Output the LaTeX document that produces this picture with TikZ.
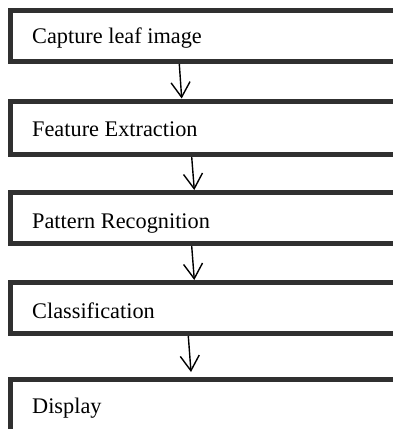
\documentclass[tikz,border=0pt]{standalone}
\usepackage{fontspec}
\setmainfont{Liberation Serif}
\usetikzlibrary{arrows.meta}

\definecolor{rimgray}{RGB}{48,48,48}

\tikzset{
  stagebox/.style={fill=white, rectangle, minimum width=382.5pt,
    inner sep=0pt, outer sep=0pt, anchor=north west},
  rim/.style={draw=rimgray, line width=5pt, line join=miter, line cap=butt},
  stagetext/.style={anchor=base west, inner sep=0pt,
    font=\fontsize{22.3pt}{26pt}\selectfont},
  flow/.style={line width=1.4pt,
    -{Straight Barb[length=15pt, width=19pt, line width=1.4pt]}}
}

\begin{document}
\begin{tikzpicture}[x=1pt, y=-1pt]
  \path[use as bounding box] (0,0) rectangle (393,429);
  \fill[white] (0,0) rectangle (393,429);

  % the five stages; node outlines follow the centre of the frame line
  % and reach the right-hand edge of the sheet
  \node[stagebox, minimum height=51pt]   (b1) at (10.5,10.5)  {};
  \node[stagebox, minimum height=53.5pt] (b2) at (10.5,101)   {};
  \node[stagebox, minimum height=51pt]   (b3) at (10.5,192.5) {};
  \node[stagebox, minimum height=51pt]   (b4) at (10.5,282.5) {};
  \node[stagebox, minimum height=49.5pt] (b5) at (10.5,379.5) {};

  % open-ended frames: top, left and bottom sides only
  \foreach \b in {b1,b2,b3,b4}
    \draw[rim] (\b.north east) -- (\b.north west) -- (\b.south west) -- (\b.south east);
  \draw[rim] (b5.north east) -- (b5.north west) -- (b5.south west);

  % stage captions
  \node[stagetext] (t1) at ([xshift=21.5pt, yshift=-32.5pt]b1.north west) {Capture leaf image};
  \node[stagetext] (t2) at ([xshift=21.5pt, yshift=-35.5pt]b2.north west) {Feature Extraction};
  \node[stagetext] (t3) at ([xshift=21.5pt, yshift=-35.5pt]b3.north west) {Pattern Recognition};
  \node[stagetext] (t4) at ([xshift=21.5pt, yshift=-35.5pt]b4.north west) {Classification};
  \node[stagetext] (t5) at ([xshift=21.5pt, yshift=-33.5pt]b5.north west) {Display};

  % connectors between stages, from outer edge to outer edge
  \draw[flow] ([xshift=168.8pt, yshift=-2.5pt]b1.south west) -- ([xshift=171.2pt, yshift=2.5pt]b2.north west);
  \draw[flow] ([xshift=181.2pt, yshift=-2.5pt]b2.south west) -- ([xshift=183.8pt, yshift=2.5pt]b3.north west);
  \draw[flow] ([xshift=181.2pt, yshift=-2.5pt]b3.south west) -- ([xshift=183.8pt, yshift=2.5pt]b4.north west);
  \draw[flow] ([xshift=177.8pt, yshift=-2.5pt]b4.south west) -- ([xshift=180.5pt, yshift=7.5pt]b5.north west);
\end{tikzpicture}
\end{document}
